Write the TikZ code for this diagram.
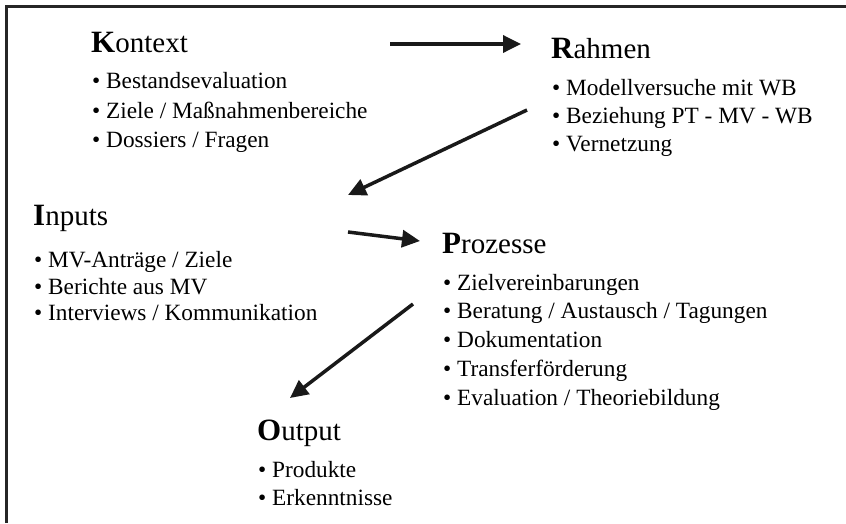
\documentclass[tikz,border=0pt]{standalone}
\usepackage{fontspec}
\setmainfont{Liberation Serif}
\usetikzlibrary{arrows.meta}
\newcommand\HdLetter[2]{{\fontsize{31}{32}\selectfont\bfseries #1}#2}
\begin{document}
\begin{tikzpicture}[x=1pt,y=-1pt,
  head/.style={anchor=base west,inner sep=0pt,font=\fontsize{29}{32}\selectfont},
  item/.style={anchor=base west,inner sep=0pt,font=\fontsize{23.3}{26}\selectfont},
  flow/.style={line width=3.5pt,draw=black!90,-{Triangle[length=18pt,width=17pt]}},
  frame/.style={line width=2.5pt,draw=black!85}]
\useasboundingbox (0,0) rectangle (846,523);
\draw[frame] (6.5,523) -- (6.5,6.5) -- (846,6.5);

% Kontext
\node[head] (kontext) at (91,52) {\HdLetter{K}{ontext}};
\node[item] (k1) at (92,88) {• Bestandsevaluation};
\node[item] (k2) at (92,118) {• Ziele / Maßnahmenbereiche};
\node[item] (k3) at (92,147) {• Dossiers / Fragen};

% Rahmen
\node[head] (rahmen) at (551,58) {\HdLetter{R}{ahmen}};
\node[item] (r1) at (552,95) {• Modellversuche mit WB};
\node[item] (r2) at (552,123) {• Beziehung PT - MV - WB};
\node[item] (r3) at (552,151) {• Vernetzung};

% Inputs
\node[head] (inputs) at (33,225) {\HdLetter{I}{nputs}};
\node[item] (i1) at (34,267) {• MV-Anträge / Ziele};
\node[item] (i2) at (34,294) {• Berichte aus MV};
\node[item] (i3) at (34,320) {• Interviews / Kommunikation};

% Prozesse
\node[head] (prozesse) at (442,253) {\HdLetter{P}{rozesse}};
\node[item] (p1) at (443,290) {• Zielvereinbarungen};
\node[item] (p2) at (443,318) {• Beratung / Austausch / Tagungen};
\node[item] (p3) at (443,347) {• Dokumentation};
\node[item] (p4) at (443,376) {• Transferförderung};
\node[item] (p5) at (443,405) {• Evaluation / Theoriebildung};

% Output
\node[head] (output) at (257,440) {\HdLetter{O}{utput}};
\node[item] (o1) at (258,477) {• Produkte};
\node[item] (o2) at (258,505) {• Erkenntnisse};

% arrows
\coordinate (a1s) at (390,44);  \coordinate (a1e) at (521,44);
\coordinate (a2s) at (527,110); \coordinate (a2e) at (348,195);
\coordinate (a3s) at (348,232); \coordinate (a3e) at (420,241);
\coordinate (a4s) at (413,304); \coordinate (a4e) at (290,398);
\draw[flow] (a1s) -- (a1e);
\draw[flow] (a2s) -- (a2e);
\draw[flow] (a3s) -- (a3e);
\draw[flow] (a4s) -- (a4e);
\end{tikzpicture}
\end{document}
